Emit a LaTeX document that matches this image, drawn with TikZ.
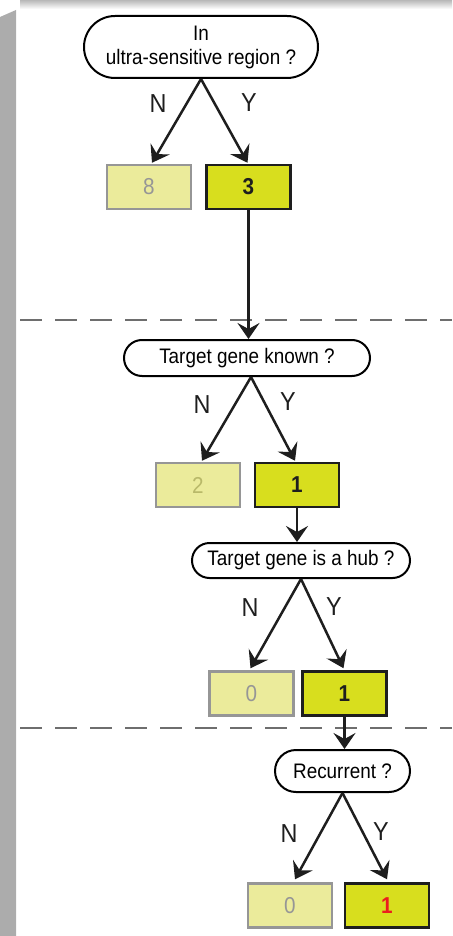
\documentclass[tikz,border=0pt]{standalone}
\usepackage{fontspec}
\setmainfont{Liberation Sans}
\newfontfamily\narrowfont[FakeStretch=0.9]{Liberation Sans}
\usetikzlibrary{arrows.meta}
\definecolor{lightfill}{RGB}{235,235,155}
\definecolor{lightedge}{RGB}{150,150,150}
\definecolor{darkfill}{RGB}{216,222,30}
\definecolor{darkedge}{RGB}{30,30,30}
\definecolor{greytext}{RGB}{150,150,150}
\definecolor{olivetext}{RGB}{185,185,105}
\definecolor{redtext}{RGB}{235,30,30}
\definecolor{dashgrey}{RGB}{110,110,110}
\definecolor{shadow}{RGB}{172,172,172}
\tikzset{
  question/.style={draw=black, line width=2pt, fill=white, inner sep=0pt,
    font=\narrowfont\fontsize{21}{24}\selectfont, align=center},
  nobox/.style={draw=lightedge, fill=lightfill, line width=2.5pt, inner sep=0pt,
    minimum width=84pt, minimum height=44pt, font=\narrowfont\fontsize{23}{23}\selectfont},
  yesbox/.style={draw=darkedge, fill=darkfill, line width=2.5pt, inner sep=0pt,
    minimum width=84pt, minimum height=44pt, font=\narrowfont\fontsize{23}{23}\selectfont\bfseries},
  arr/.style={line width=2.5pt, draw=darkedge,
    -{Stealth[length=16pt,width=22pt,inset=6pt]}},
  lab/.style={font=\narrowfont\fontsize{26}{26}\selectfont, text=darkedge, inner sep=0pt},
  sep/.style={draw=dashgrey, line width=2.5pt, dash pattern=on 22pt off 13pt},
}
\begin{document}
\begin{tikzpicture}[x=1pt,y=-1pt]
\useasboundingbox (0,0) rectangle (452,936);
% background shadows
\shade[top color=black!28, bottom color=white] (20,0) rectangle (452,9);
\fill[shadow] (0,17) -- (16,10) -- (16,936) -- (0,936) -- cycle;
% level 1
\node[question, minimum width=234pt, minimum height=62pt, rounded corners=31pt] (q1) at (201,47) {In\\ultra-sensitive region ?};
\node[nobox] (n1) at (149,187) {\textcolor{greytext}{8}};
\node[yesbox] (y1) at (248.5,187) {\textcolor{darkedge}{3}};
\draw[arr] (q1.south) -- ([xshift=3pt,yshift=1pt]n1.north);
\draw[arr] (q1.south) -- ([xshift=-1pt,yshift=1pt]y1.north);
\node[lab] (ln1) at (158,104) {N};
\node[lab] (ly1) at (249,103) {Y};
% separator 1
\coordinate (s1a) at (20,320);
\coordinate (s1b) at (452,320);
\draw[sep] (s1a) -- (s1b);
% level 2
\node[question, minimum width=246pt, minimum height=36pt, rounded corners=18pt] (q2) at (247,358) {Target gene known ?};
\draw[arr] (y1.south) -- (y1.south |- q2.north);
\node[nobox] (n2) at (198,485) {\textcolor{olivetext}{2}};
\node[yesbox] (y2) at (297,485) {\textcolor{darkedge}{1}};
\draw[arr] ([xshift=4pt]q2.south) -- ([xshift=4pt,yshift=1pt]n2.north);
\draw[arr] ([xshift=4pt]q2.south) -- ([xshift=-2pt,yshift=1pt]y2.north);
\node[lab] (ln2) at (202,405) {N};
\node[lab] (ly2) at (288,402) {Y};
% level 3
\node[question, minimum width=218pt, minimum height=35pt, rounded corners=17.5pt] (q3) at (301,560.5) {Target gene is a hub ?};
\draw[arr] (y2.south) -- (y2.south |- q3.north);
\node[nobox] (n3) at (251.5,693.5) {\textcolor{greytext}{0}};
\node[yesbox] (y3) at (344.5,693.5) {\textcolor{darkedge}{1}};
\draw[arr] (q3.south) -- ([xshift=-1pt,yshift=2pt]n3.north);
\draw[arr] (q3.south) -- ([xshift=-1pt,yshift=2pt]y3.north);
\node[lab] (ln3) at (250,608) {N};
\node[lab] (ly3) at (334,607) {Y};
% separator 2
\coordinate (s2a) at (20,728);
\coordinate (s2b) at (452,728);
\draw[sep] (s2a) -- (s2b);
% level 4
\node[question, minimum width=135pt, minimum height=42pt, rounded corners=21pt] (q4) at (342.5,771) {Recurrent ?};
\draw[arr] (y3.south) -- (y3.south |- q4.north);
\node[nobox] (n4) at (290,905.5) {\textcolor{greytext}{0}};
\node[yesbox] (y4) at (387,905.5) {\textcolor{redtext}{1}};
\draw[arr] (q4.south) -- ([xshift=5pt,yshift=3pt]n4.north);
\draw[arr] (q4.south) -- ([xshift=0pt,yshift=3pt]y4.north);
\node[lab] (ln4) at (289,834) {N};
\node[lab] (ly4) at (381,832) {Y};
\end{tikzpicture}
\end{document}
